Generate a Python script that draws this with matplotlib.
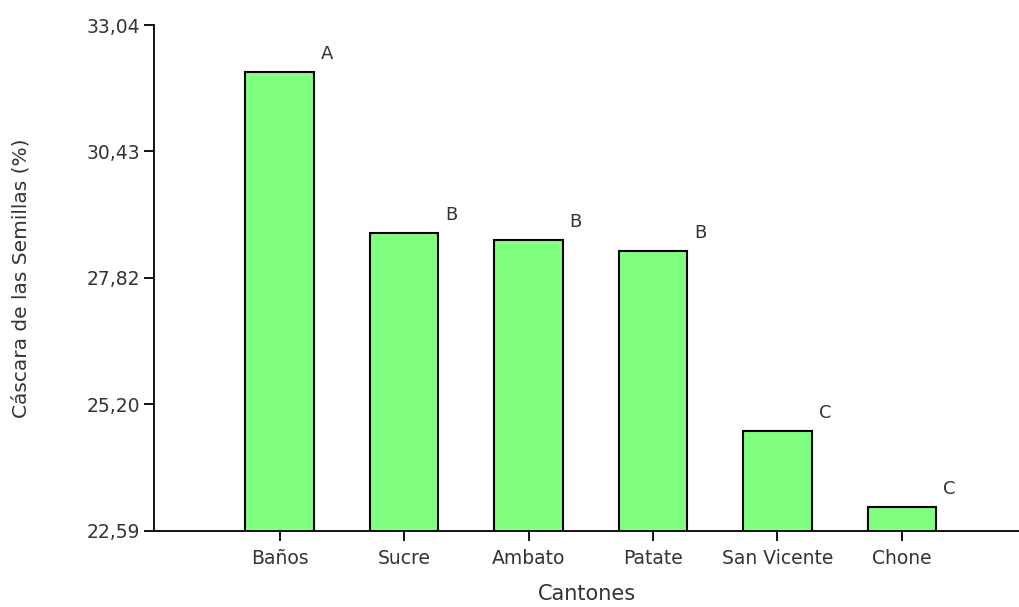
import matplotlib
matplotlib.use("Agg")
import matplotlib.pyplot as plt

# Seed husk percentage by canton, with Tukey group letters
cantones = ["Baños", "Sucre", "Ambato", "Patate", "San Vicente", "Chone"]
cascara = [32.06, 28.74, 28.60, 28.38, 24.65, 23.07]
grupos = ["A", "B", "B", "B", "C", "C"]
yticks = [22.59, 25.20, 27.82, 30.43, 33.04]
ytick_labels = ["22,59", "25,20", "27,82", "30,43", "33,04"]

plt.rcParams["font.family"] = ["DejaVu Sans"]
text_color = "#333333"

fig = plt.figure(figsize=(10.2, 6.07), dpi=100)
ax = fig.add_axes([0.151, 0.1257, 0.849, 0.833])

x = list(range(len(cantones)))
bar_w = 0.55
bars = ax.bar(x, cascara, width=bar_w, bottom=0, color="#80FF80",
              edgecolor="black", linewidth=1.5, zorder=2)

for xi, val, g in zip(x, cascara, grupos):
    ax.annotate(g, xy=(xi + bar_w / 2, val), xytext=(7, 9),
                textcoords="offset pixels", ha="left", va="bottom",
                fontsize=13, color=text_color)

ax.set_ylim(22.59, 33.04)
ax.set_xlim(-1.01, 5.95)
ax.set_yticks(yticks)
ax.set_yticklabels(ytick_labels)
ax.set_xticks(x)
ax.set_xticklabels(cantones)

for side in ("top", "right"):
    ax.spines[side].set_visible(False)
for side in ("left", "bottom"):
    ax.spines[side].set_linewidth(1.3)
    ax.spines[side].set_color("black")

ax.tick_params(axis="both", direction="out", length=7, width=1.3,
               colors="black", labelcolor=text_color, labelsize=13.5)
ax.tick_params(axis="x", pad=6)
ax.tick_params(axis="y", pad=3)

ax.set_xlabel("Cantones", fontsize=15, color=text_color, labelpad=12)
ax.set_ylabel("Cáscara de las Semillas (%)", fontsize=14.5, color=text_color,
              labelpad=40)

fig.savefig("out.png", dpi=100, facecolor="white")
